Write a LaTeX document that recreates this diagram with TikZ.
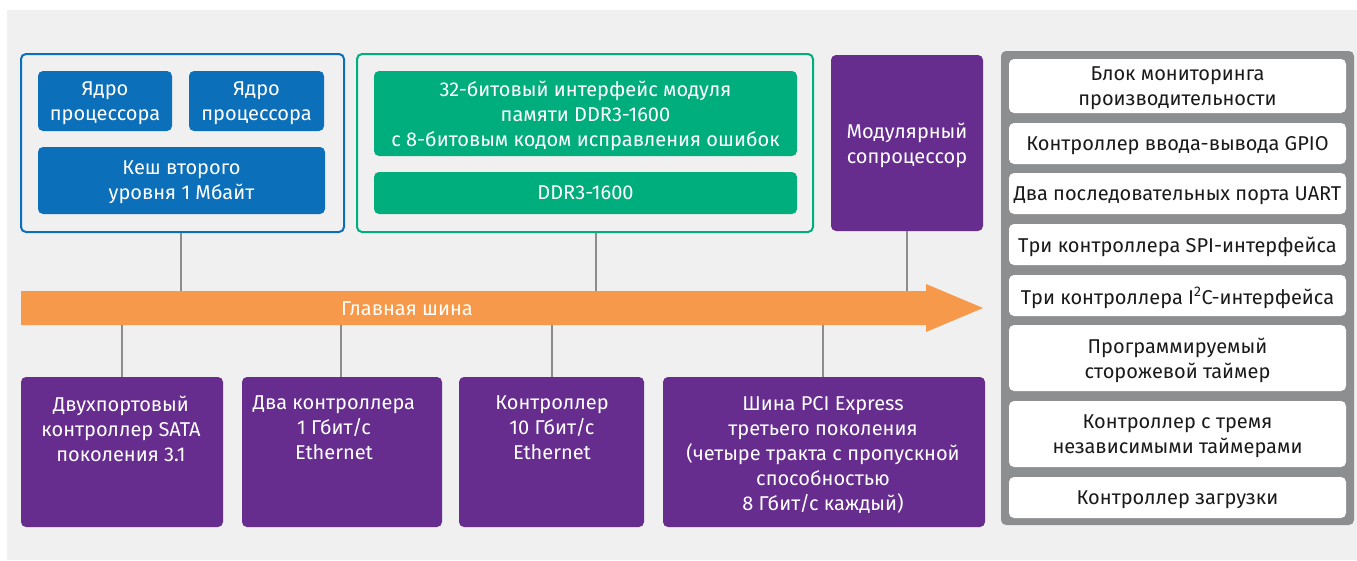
\documentclass[tikz,border=0pt]{standalone}
\usepackage{fontspec}
\setmainfont{Fira Sans}
\definecolor{bgc}{HTML}{F0F0F0}
\definecolor{bluec}{HTML}{0B6FBA}
\definecolor{greenc}{HTML}{00AE7D}
\definecolor{purplec}{HTML}{662D8F}
\definecolor{orangec}{HTML}{F7994B}
\definecolor{panelc}{HTML}{8D8E90}
\definecolor{linec}{HTML}{8C8C8C}
\definecolor{darktext}{HTML}{1A1A1A}
\tikzset{
  txt/.style={font=\fontsize{20}{25}\selectfont, align=center},
  box/.style={rectangle, rounded corners=5pt, inner sep=0pt, txt, text depth=0pt},
  bluebox/.style={box, fill=bluec, text=white},
  greenbox/.style={box, fill=greenc, text=white},
  purplebox/.style={box, fill=purplec, text=white},
  whitebox/.style={box, fill=white, text=darktext},
  frame/.style={rectangle, rounded corners=5pt, line width=2pt, inner sep=0pt},
  conn/.style={draw=linec, line width=2pt},
  wtext/.style={txt, text=white, inner sep=0pt},
}
\begin{document}
\begin{tikzpicture}[x=1pt,y=-1pt]
\useasboundingbox (0,0) rectangle (1357,560);
\fill[white] (0,0) rectangle (1357,560);
\fill[bgc] (7,10) rectangle (1357,560);

% upper groups
\node[frame, draw=bluec, minimum width=323pt, minimum height=178pt] (cpu) at (182.5,143) {};
\node[bluebox, minimum width=134pt, minimum height=60pt] (core1) at (105,101) {Ядро\\процессора};
\node[bluebox, minimum width=135pt, minimum height=60pt] (core2) at (256.5,101) {Ядро\\процессора};
\node[bluebox, minimum width=287pt, minimum height=67pt] (cache) at (181.5,180.5) {Кеш второго\\уровня 1 Мбайт};

\node[frame, draw=greenc, minimum width=456pt, minimum height=178pt] (mem) at (585,143) {};
\node[greenbox, minimum width=423pt, minimum height=85pt] (ddrif) at (585.5,113.5) {32-битовый интерфейс модуля\\памяти DDR3-1600\\с 8-битовым кодом исправления ошибок};
\node[greenbox, minimum width=423pt, minimum height=42pt] (ddr) at (585.5,193) {DDR3-1600};

\node[purplebox, minimum width=152pt, minimum height=176pt] (coproc) at (907,143) {Модулярный\\сопроцессор};

% bus
\fill[orangec] (21,291) -- (926,291) -- (926,284) -- (983,308) -- (926,332) -- (926,325) -- (21,325) -- cycle;
\node[wtext, text depth=0pt] (buslabel) at (407,309) {Главная шина};
\coordinate (bc1) at (181,291);
\coordinate (bc2) at (596,291);
\coordinate (bc3) at (907,291);
\coordinate (bd1) at (122,325);
\coordinate (bd2) at (341,325);
\coordinate (bd3) at (552,325);
\coordinate (bd4) at (823,325);

% lower boxes
\node[purplebox, minimum width=202pt, minimum height=150pt] (sata) at (122,452) {};
\node[purplebox, minimum width=200pt, minimum height=150pt] (eth1) at (342,452) {};
\node[purplebox, minimum width=185pt, minimum height=150pt] (eth10) at (551.5,452) {};
\node[purplebox, minimum width=322pt, minimum height=150pt] (pcie) at (824,452) {};
\node[wtext, anchor=north] (satat) at (121,396) {Двухпортовый\\контроллер SATA\\поколения 3.1};
\node[wtext, anchor=north] (eth1t) at (334,396) {Два контроллера\\1 Гбит/с\\Ethernet};
\node[wtext, anchor=north] (eth10t) at (552,396) {Контроллер\\10 Гбит/с\\Ethernet};
\node[wtext, anchor=north] (pciet) at (823,396) {Шина PCI Express\\третьего поколения\\(четыре тракта с пропускной\\способностью\\8 Гбит/с каждый)};

% connectors
\draw[conn] (cpu.south -| bc1) -- (bc1);
\draw[conn] (mem.south -| bc2) -- (bc2);
\draw[conn] (coproc.south) -- (bc3);
\draw[conn] (bd1) -- (sata.north -| bd1);
\draw[conn] (bd2) -- (eth1.north -| bd2);
\draw[conn] (bd3) -- (eth10.north -| bd3);
\draw[conn] (bd4) -- (pcie.north -| bd4);

% right panel
\node[rectangle, rounded corners=5pt, fill=panelc, minimum width=353pt, minimum height=474pt] (panel) at (1177.5,288) {};
\node[whitebox, minimum width=337pt, minimum height=54pt] (p1) at (1177.5,86) {Блок мониторинга\\производительности};
\node[whitebox, minimum width=337pt, minimum height=41pt] (p2) at (1177.5,143.5) {Контроллер ввода-вывода GPIO};
\node[whitebox, minimum width=337pt, minimum height=41pt] (p3) at (1177.5,193.5) {Два последовательных порта UART};
\node[whitebox, minimum width=337pt, minimum height=41pt] (p4) at (1177.5,244.5) {Три контроллера SPI-интерфейса};
\node[whitebox, minimum width=337pt, minimum height=41pt] (p5) at (1177.5,295.5) {Три контроллера I\textsuperscript{2}C-интерфейса};
\node[whitebox, minimum width=337pt, minimum height=66pt] (p6) at (1177.5,358) {Программируемый\\сторожевой таймер};
\node[whitebox, minimum width=337pt, minimum height=66pt] (p7) at (1177.5,434) {Контроллер с тремя\\независимыми таймерами};
\node[whitebox, minimum width=337pt, minimum height=41pt] (p8) at (1177.5,497.5) {Контроллер загрузки};
\end{tikzpicture}
\end{document}
